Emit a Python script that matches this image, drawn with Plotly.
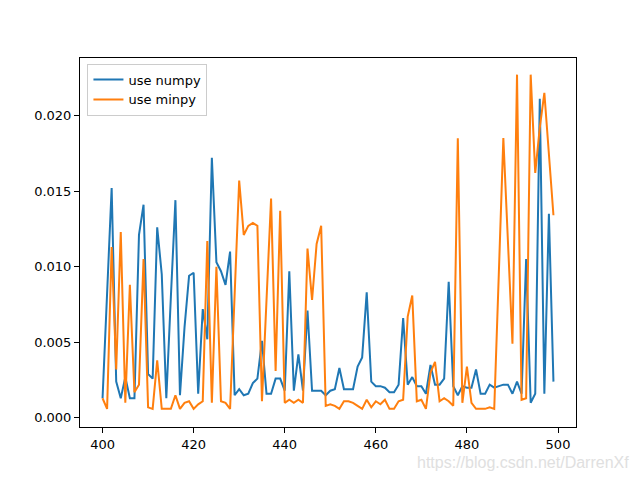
import plotly.graph_objects as go

x_vals = list(range(400, 500))

use_numpy = [
    0.0013, 0.0082, 0.0152, 0.0024, 0.0013, 0.0027, 0.0013, 0.0013, 0.0121, 0.0141,
    0.0029, 0.0026, 0.0126, 0.0095, 0.0013, 0.0080, 0.0144, 0.0015, 0.0060, 0.0094,
    0.0096, 0.0016, 0.0072, 0.0052, 0.0172, 0.0103, 0.0097, 0.0088, 0.0110, 0.0015,
    0.0019, 0.0015, 0.0016, 0.0023, 0.0026, 0.0051, 0.0016, 0.0016, 0.0026, 0.0026,
    0.0018, 0.0097, 0.0018, 0.0042, 0.0018, 0.0071, 0.0018, 0.0018, 0.0018, 0.0015,
    0.0018, 0.0019, 0.0033, 0.0019, 0.0019, 0.0019, 0.0034, 0.0040, 0.0083, 0.0024,
    0.0021, 0.0021, 0.0020, 0.0017, 0.0017, 0.0022, 0.0066, 0.0022, 0.0027, 0.0021,
    0.0021, 0.0016, 0.0035, 0.0022, 0.0022, 0.0026, 0.0090, 0.0021, 0.0015, 0.0021,
    0.0020, 0.0020, 0.0032, 0.0016, 0.0016, 0.0022, 0.0020, 0.0021, 0.0022, 0.0022,
    0.0016, 0.0024, 0.0016, 0.0105, 0.0010, 0.0016, 0.0211, 0.0016, 0.0135, 0.0024,
]

use_minpy = [
    0.0013, 0.0006, 0.0113, 0.0032, 0.0123, 0.0010, 0.0088, 0.0017, 0.0022, 0.0105,
    0.0007, 0.0006, 0.0038, 0.0006, 0.0006, 0.0006, 0.0015, 0.0006, 0.0010, 0.0011,
    0.0006, 0.0009, 0.0011, 0.0117, 0.0010, 0.0100, 0.0011, 0.0010, 0.0006, 0.0081,
    0.0157, 0.0121, 0.0127, 0.0129, 0.0127, 0.0011, 0.0078, 0.0145, 0.0031, 0.0137,
    0.0010, 0.0012, 0.0010, 0.0012, 0.0010, 0.0112, 0.0078, 0.0115, 0.0127, 0.0008,
    0.0009, 0.0008, 0.0006, 0.0011, 0.0011, 0.0010, 0.0008, 0.0006, 0.0012, 0.0007,
    0.0011, 0.0009, 0.0012, 0.0006, 0.0006, 0.0011, 0.0012, 0.0067, 0.0081, 0.0011,
    0.0012, 0.0006, 0.0030, 0.0037, 0.0011, 0.0013, 0.0011, 0.0008, 0.0185, 0.0010,
    0.0034, 0.0010, 0.0006, 0.0006, 0.0006, 0.0007, 0.0006, 0.0095, 0.0185, 0.0117,
    0.0049, 0.0227, 0.0012, 0.0013, 0.0227, 0.0162, 0.0192, 0.0215, 0.0175, 0.0134,
]

y_ticks = [0.000, 0.005, 0.010, 0.015, 0.020]
x_ticks = [400, 420, 440, 460, 480, 500]

fig = go.Figure()
fig.add_trace(go.Scatter(x=x_vals, y=use_numpy, mode="lines", name="use numpy",
                         line=dict(color="#1f77b4", width=2)))
fig.add_trace(go.Scatter(x=x_vals, y=use_minpy, mode="lines", name="use minpy",
                         line=dict(color="#ff7f0e", width=2)))

axis_common = dict(showgrid=False, zeroline=False, showline=True, linecolor="black",
                   linewidth=1, mirror=True, ticks="outside", ticklen=5, tickcolor="black",
                   tickfont=dict(family="DejaVu Sans", size=13, color="black"))

fig.update_xaxes(range=[395.05, 503.95], tickvals=x_ticks, **axis_common)
fig.update_yaxes(range=[-0.0006, 0.0238], tickvals=y_ticks, tickformat=".3f", **axis_common)

fig.update_layout(
    width=632, height=472,
    margin=dict(l=72, r=64, t=50, b=53),
    paper_bgcolor="white", plot_bgcolor="white",
    font=dict(family="DejaVu Sans", size=13, color="black"),
    legend=dict(x=0.015, y=0.985, xanchor="left", yanchor="top",
                bgcolor="rgba(255,255,255,0.8)", bordercolor="#cccccc", borderwidth=1,
                font=dict(family="DejaVu Sans", size=13), tracegroupgap=0),
    showlegend=True,
    annotations=[dict(text="https://blog.csdn.net/DarrenXf", xref="paper", yref="paper",
                      x=1.111, y=-0.095, xanchor="right", yanchor="middle", showarrow=False,
                      font=dict(family="Liberation Sans", size=16, color="#e0e0e0"))],
)

fig.write_html("out.html")
